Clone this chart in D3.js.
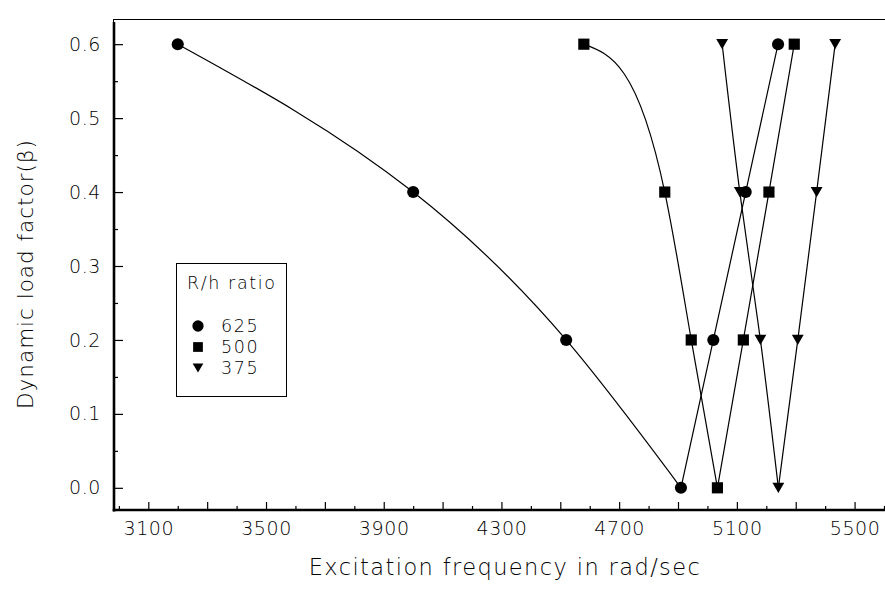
<!DOCTYPE html>
<html>
<head>
<meta charset="utf-8">
<script src="https://cdn.jsdelivr.net/npm/d3@7"></script>
<style>
  html, body { margin: 0; padding: 0; background: #fff; }
  svg { display: block; }
  text { font-family: "DejaVu Sans", sans-serif; font-weight: 200; fill: #000; }
</style>
</head>
<body>
<svg id="chart" width="885" height="589"></svg>
<script>
// ---------------- data ----------------
const seriesNames = ["625", "500", "375"];
const betaValues = [0.6, 0.4, 0.2, 0.0, 0.2, 0.4, 0.6];
const freq625 = [3200, 4000, 4520, 4910, 5020, 5130, 5240];
const freq500 = [4580, 4855, 4945, 5034, 5122, 5209, 5295];
const freq375 = [5050, 5110, 5180, 5241, 5307, 5371, 5434];
const xTickLabels = [3100, 3500, 3900, 4300, 4700, 5100, 5500];
const yTickLabels = [0.0, 0.1, 0.2, 0.3, 0.4, 0.5, 0.6];
const xTitle = "Excitation frequency in rad/sec";
const yTitle = "Dynamic load factor(β)";
const legendTitle = "R/h ratio";

// ---------------- layout ----------------
const svg = d3.select("#chart");
const x = d3.scaleLinear().domain([2980, 5600]).range([113, 884]);
const y = d3.scaleLinear().domain([-0.03, 0.63]).range([510, 22]);

// frame
svg.append("rect")
  .attr("x", 113.5).attr("y", 19.5)
  .attr("width", 884.5 - 113.5 + 2).attr("height", 510 - 19.5)
  .attr("fill", "none").attr("stroke", "#000").attr("stroke-width", 1);

// y axis (major, labelled)
const yMajor = d3.axisLeft(y).tickValues(yTickLabels).tickSize(-9).tickPadding(13)
  .tickFormat(d3.format(".1f"));
svg.append("g").attr("transform", "translate(114,0)").call(yMajor);
// y minor
const yMinorVals = d3.range(0.05, 0.6, 0.1);
svg.append("g").attr("transform", "translate(114,0)")
  .call(d3.axisLeft(y).tickValues(yMinorVals).tickSize(-4).tickFormat(""));

// x axis major every 200, labels every 400
const xMajorVals = d3.range(3100, 5501, 200);
svg.append("g").attr("transform", "translate(0,510)")
  .call(d3.axisBottom(x).tickValues(xMajorVals).tickSize(-8).tickPadding(12)
    .tickFormat(d => xTickLabels.includes(d) ? String(d) : ""));
const xMinorVals = d3.range(3000, 5601, 200);
svg.append("g").attr("transform", "translate(0,510)")
  .call(d3.axisBottom(x).tickValues(xMinorVals).tickSize(-4).tickFormat(""));

svg.selectAll(".domain").remove();
svg.selectAll(".tick line").attr("stroke", "#000").attr("stroke-width", 1.2);
svg.selectAll(".tick text").style("font-size", "19px").attr("fill", "#000")
  .style("font-family", "'DejaVu Sans', sans-serif").style("font-weight", 200)
  .style("letter-spacing", "0.6px");

// thick axis lines
svg.append("line").attr("x1", 114).attr("x2", 114).attr("y1", y(0.63)).attr("y2", 511.5)
  .attr("stroke", "#000").attr("stroke-width", 2.6);
svg.append("line").attr("x1", 112.7).attr("x2", 885).attr("y1", 510).attr("y2", 510)
  .attr("stroke", "#000").attr("stroke-width", 2.6);

// axis titles
svg.append("text").attr("x", 505).attr("y", 575).attr("text-anchor", "middle")
  .style("font-size", "22.5px").style("letter-spacing", "1.4px").text(xTitle);
svg.append("text").attr("transform", "translate(33,274) rotate(-90)")
  .attr("text-anchor", "middle").style("font-size", "21.5px").style("letter-spacing", "1px")
  .text(yTitle);

// ---------------- curves ----------------
// natural cubic spline y(x) through pixel points, drawn as exact Bezier segments
function splinePath(pts) {
  const n = pts.length;
  const h = [], s = [];
  for (let i = 0; i < n - 1; i++) {
    h.push(pts[i + 1][0] - pts[i][0]);
    s.push((pts[i + 1][1] - pts[i][1]) / h[i]);
  }
  const M = new Array(n).fill(0);
  if (n > 2) {
    const m = n - 2;
    const a = [], b = [], c = [], r = [];
    for (let i = 1; i <= m; i++) {
      a.push(h[i - 1]); b.push(2 * (h[i - 1] + h[i])); c.push(h[i]);
      r.push(6 * (s[i] - s[i - 1]));
    }
    for (let i = 1; i < m; i++) {
      const w = a[i] / b[i - 1];
      b[i] -= w * c[i - 1]; r[i] -= w * r[i - 1];
    }
    const sol = new Array(m);
    sol[m - 1] = r[m - 1] / b[m - 1];
    for (let i = m - 2; i >= 0; i--) sol[i] = (r[i] - c[i] * sol[i + 1]) / b[i];
    for (let i = 0; i < m; i++) M[i + 1] = sol[i];
  }
  const p = d3.path();
  p.moveTo(pts[0][0], pts[0][1]);
  for (let i = 0; i < n - 1; i++) {
    const m0 = s[i] - h[i] * (2 * M[i] + M[i + 1]) / 6;
    const m1 = s[i] + h[i] * (M[i] + 2 * M[i + 1]) / 6;
    const k = h[i] / 3;
    p.bezierCurveTo(pts[i][0] + k, pts[i][1] + k * m0,
                    pts[i + 1][0] - k, pts[i + 1][1] - k * m1,
                    pts[i + 1][0], pts[i + 1][1]);
  }
  return p.toString();
}

const triangleDown = {
  draw(ctx, size) {
    const w = Math.sqrt(size);
    ctx.moveTo(-w / 2, -w * 0.43);
    ctx.lineTo(w / 2, -w * 0.43);
    ctx.lineTo(0, w * 0.43);
    ctx.closePath();
  }
};
const symbolTypes = [d3.symbolCircle, d3.symbolSquare, triangleDown];
const symbolSizes = [115, 125, 140];

const allFreqs = [freq625, freq500, freq375];
allFreqs.forEach((freqs) => {
  const pts = freqs.map((f, i) => [x(f), y(betaValues[i])]);
  const minIdx = betaValues.indexOf(d3.min(betaValues));
  [pts.slice(0, minIdx + 1), pts.slice(minIdx)].forEach(branch => {
    svg.append("path").attr("d", splinePath(branch))
      .attr("fill", "none").attr("stroke", "#000").attr("stroke-width", 1.2);
  });
});
allFreqs.forEach((freqs, si) => {
  svg.append("g").selectAll("path").data(freqs).join("path")
    .attr("transform", (f, i) => `translate(${x(f)},${y(betaValues[i])})`)
    .attr("d", d3.symbol().type(symbolTypes[si]).size(symbolSizes[si])())
    .attr("fill", "#000");
});

// ---------------- legend ----------------
const lg = svg.append("g");
lg.append("rect").attr("x", 176.5).attr("y", 263.5).attr("width", 110).attr("height", 133)
  .attr("fill", "#fff").attr("stroke", "#000").attr("stroke-width", 1);
lg.append("text").attr("x", 187).attr("y", 288.5)
  .style("font-size", "17.5px").style("letter-spacing", "1.6px").text(legendTitle);
seriesNames.forEach((name, i) => {
  const cy = 326 + i * 21;
  lg.append("path").attr("transform", `translate(198,${cy})`)
    .attr("d", d3.symbol().type(symbolTypes[i]).size([100, 95, 115][i])()).attr("fill", "#000");
  lg.append("text").attr("x", 221).attr("y", cy + 6.3)
    .style("font-size", "17.5px").style("letter-spacing", "1.6px").text(name);
});
</script>
</body>
</html>
